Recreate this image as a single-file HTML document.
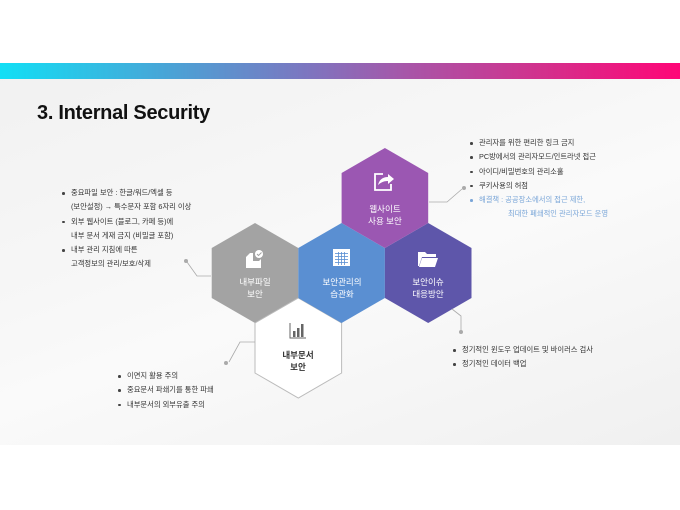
<!DOCTYPE html>
<html><head><meta charset="utf-8"><style>
body{margin:0;width:680px;height:510px;overflow:hidden;background:#fff;font-family:"Liberation Sans","Noto Sans CJK KR",sans-serif;position:relative}
.slide{position:absolute;left:0;top:63px;width:680px;height:382px;background:linear-gradient(160deg,#f1f1f1 0%,#f7f7f7 40%,#fafafa 55%,#f0f0f0 100%)}
.bar{position:absolute;left:0;top:63px;width:680px;height:16px;background:linear-gradient(90deg,#12dff5 0%,#4aa3d6 25%,#7c76c0 45%,#a855a8 60%,#d3308c 80%,#ff0677 100%)}
h1{position:absolute;left:37px;top:102px;margin:0;font-size:20px;letter-spacing:-0.3px;font-weight:bold;color:#111;font-family:"Liberation Sans","Noto Sans CJK KR",sans-serif}
.t{position:absolute;font-size:7.3px;color:#333;line-height:14.3px;white-space:nowrap}
.t div{position:relative;padding-left:9px}
.t .b::before{content:"";position:absolute;left:0;top:6px;width:2.5px;height:2.5px;background:#444;border-radius:50%}
.blue{color:#7aa6d8}
.blue.b::before{background:#7aa6d8!important}
</style></head><body>
<div class="slide"></div>
<div class="bar"></div>
<h1>3. Internal Security</h1>
<svg width="680" height="510" style="position:absolute;left:0;top:0">
<g font-family="Liberation Sans, Noto Sans CJK KR, sans-serif" font-size="8.5" text-anchor="middle">
<polygon points="255,223 298.3,248 298.3,298 255,323 211.7,298 211.7,248" fill="#a3a3a3"/>
<polygon points="298.3,298 341.6,323 341.6,373 298.3,398 255,373 255,323" fill="#fff" stroke="#bbb" stroke-width="1"/>
<polygon points="341.6,223 384.9,248 384.9,298 341.6,323 298.3,298 298.3,248" fill="#5a8fd2"/>
<polygon points="428.2,223 471.5,248 471.5,298 428.2,323 384.9,298 384.9,248" fill="#5e56aa"/>
<polygon points="384.9,148 428.2,173 428.2,223 384.9,248 341.6,223 341.6,173" fill="#9b57b2"/>
<g stroke="#aaa" stroke-width="0.8" fill="none">
<polyline points="429,202 447,202 462,189"/>
<polyline points="452,309 461,316 461,331"/>
<polyline points="211,276 197,276 187,262"/>
<polyline points="255,342 240,342 229,362"/>
</g>
<g fill="#aaa"><circle cx="464" cy="188" r="2"/><circle cx="461" cy="332" r="2"/><circle cx="186" cy="261" r="2"/><circle cx="226" cy="363" r="2"/></g>
<text x="385" y="212" fill="#fff">웹사이트</text><text x="385" y="224" fill="#fff">사용 보안</text>
<text x="342" y="285" fill="#fff">보안관리의</text><text x="342" y="297" fill="#fff">습관화</text>
<text x="428" y="285" fill="#fff">보안이슈</text><text x="428" y="297" fill="#fff">대응방안</text>
<text x="255" y="285" fill="#fff">내부파일</text><text x="255" y="297" fill="#fff">보안</text>
<text x="298" y="358" fill="#333" font-weight="bold">내부문서</text><text x="298" y="370" fill="#333" font-weight="bold">보안</text>
<g fill="none" stroke="#fff" stroke-width="1.8"><path d="M383 174 h-8 v16 h16 v-6"/></g>
<path d="M378 185 q2 -8 10 -8 v-3 l6 5 -6 5 v-3 q-6 0 -10 4z" fill="#fff"/>
<rect x="333" y="249" width="17" height="17" fill="#fff"/>
<g fill="#5a8fd2"><rect x="335" y="253" width="13" height="0.8"/><rect x="335" y="256" width="13" height="0.8"/><rect x="335" y="259" width="13" height="0.8"/><rect x="335" y="262" width="13" height="0.8"/><rect x="338" y="252" width="0.8" height="13"/><rect x="341" y="252" width="0.8" height="13"/><rect x="344" y="252" width="0.8" height="13"/></g>
<path d="M418 252 h7 l2 2 h9 v3 h-14 l-3 9 h-1z" fill="#fff"/><path d="M422 258 h16 l-3 9 h-16z" fill="#fff"/>
<path d="M246 257 l4 -4 h3 v8 h6 l2 -2 v9 h-15z" fill="#fff"/><circle cx="259" cy="254" r="4" fill="#fff"/><path d="M257 254 l1.5 1.5 3 -3" stroke="#a3a3a3" stroke-width="1" fill="none"/>
<g fill="none" stroke="#666" stroke-width="1"><path d="M290 323 v15 h16"/></g>
<g fill="#666"><rect x="293" y="331" width="2.5" height="6"/><rect x="297" y="328" width="2.5" height="9"/><rect x="301" y="324" width="2.5" height="13"/></g>
</g>
</svg>
<div class="t" style="left:470px;top:136px">
<div class="b">관리자를 위한 편리한 링크 금지</div>
<div class="b">PC방에서의 관리자모드/인트라넷 접근</div>
<div class="b">아이디/비밀번호의 관리소홀</div>
<div class="b">쿠키사용의 허점</div>
<div class="b blue">해결책 : 공공장소에서의 접근 제한,</div>
<div class="blue" style="padding-left:38px">최대한 폐쇄적인 관리자모드 운영</div>
</div>
<div class="t" style="left:62px;top:186px">
<div class="b">중요파일 보안 : 한글/워드/엑셀 등</div>
<div>(보안설정) → 특수문자 포함 6자리 이상</div>
<div class="b">외부 웹사이트 (블로그, 카페 등)에</div>
<div>내부 문서 게재 금지 (비밀글 포함)</div>
<div class="b">내부 관리 지침에 따른</div>
<div>고객정보의 관리/보호/삭제</div>
</div>
<div class="t" style="left:118px;top:369px">
<div class="b">이면지 활용 주의</div>
<div class="b">중요문서 파쇄기를 통한 파쇄</div>
<div class="b">내부문서의 외부유출 주의</div>
</div>
<div class="t" style="left:453px;top:343px">
<div class="b">정기적인 윈도우 업데이트 및 바이러스 검사</div>
<div class="b">정기적인 데이터 백업</div>
</div>
</body></html>
